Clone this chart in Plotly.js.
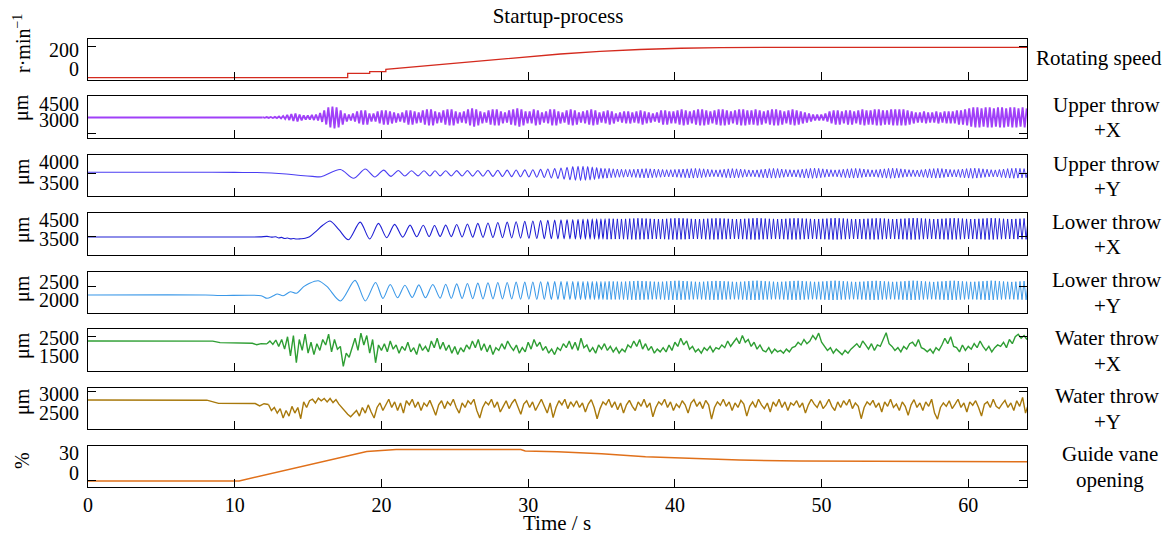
<!DOCTYPE html>
<html><head><meta charset="utf-8">
<script src="https://cdn.plot.ly/plotly-3.0.1.min.js"></script>
<style>html,body{margin:0;padding:0;background:#fff}#chart{width:1170px;height:540px}</style>
</head><body><div id="chart"></div>
<script>
// ---------------- DATA ----------------
// Rotating speed (r/min)
const speedT = [0, 17.7, 17.7, 19.2, 19.2, 20.3, 20.3, 21.3, 22.6, 24.7, 26.7, 28.1, 30.1, 32.2, 34.9, 37.6, 40.4, 43.1, 48.5, 64];
const speedV = [-84, -84, -39, -39, -23, -23, 2, 15, 31, 56, 87, 108, 133, 159, 185, 205, 218, 224, 228, 228];

// Guide vane opening (%)
const guideT = [0, 10.3, 19.0, 21.0, 29.5, 29.8, 32, 35, 38, 41.7, 44.4, 48.5, 55, 64];
const guideV = [-12, -12, 32.3, 35.3, 35.3, 33, 32, 29, 24.5, 22, 19.5, 18, 17.3, 17];

// Upper throw +X (um): flat part, then samples every 0.14 s from 11.9 s
const upXPreT = [0, 11.9];
const upXPreV = [3190, 3190];
const upXOscStart = 11.9;
const upXOscStep = 0.14;
const upXOscV = [3220,3160,3230,3150,3240,3140,3250,3130,3280,3100,3330,3050,3430,2950,3520,2860,3570,2810,3470,2910,3380,3000,3380,3000,3430,2950,3470,2910,3610,2770,
3850,2530,4130,2250,4220,2160,4130,2250,3850,2530,3570,2810,3470,2910,3570,2810,3750,2630,3850,2530,3850,2530,3570,2810,3570,2810,3750,2630,3850,2530,
3850,2530,3750,2630,3660,2720,3570,2810,3660,2720,3850,2530,3850,2530,3750,2630,3660,2720,3850,2530,3940,2440,3940,2440,3750,2630,3660,2720,3850,2530,
3940,2440,3940,2440,3750,2630,3660,2720,3750,2630,3940,2440,4040,2340,3940,2440,3750,2630,3660,2720,3850,2530,3940,2440,3940,2440,3750,2630,3660,2720,
3850,2530,3940,2440,4040,2340,3940,2440,3750,2630,3750,2630,3940,2440,3850,2530,3660,2720,3750,2630,3940,2440,3940,2440,3750,2630,3660,2720,3850,2530,
3940,2440,3850,2530,3660,2720,3750,2630,3850,2530,3940,2440,3850,2530,3660,2720,3750,2630,3850,2530,3750,2630,3570,2810,3660,2720,3750,2630,3750,2630,
3660,2720,3750,2630,3850,2530,3750,2630,3660,2720,3570,2810,3660,2720,3850,2530,3850,2530,3750,2630,
3750,2630,3850,2530,3940,2440,3850,2530,3750,2630,3850,2530,3940,2440,3940,2440,3850,2530,3750,2630,
3850,2530,3940,2440,3940,2440,3850,2530,3750,2630,3850,2530,3940,2440,3940,2440,3850,2530,3850,2530,
3940,2440,3850,2530,3750,2630,3850,2530,3940,2440,3940,2440,3850,2530,3750,2630,3850,2530,3940,2440,
3850,2530,3750,2630,3660,2720,3570,2810,3470,2910,3470,2910,3470,2910,3570,2810,
3750,2630,3850,2530,3850,2530,3750,2630,3850,2530,3850,2530,3750,2630,3850,2530,3940,2440,3850,2530,
3850,2530,3940,2440,3940,2440,3850,2530,3850,2530,3940,2440,3940,2440,3940,2440,3940,2440,3850,2530,
3750,2630,3660,2720,3660,2720,3750,2630,3660,2720,3660,2720,3750,2630,3660,2720,3750,2630,3750,2630,
3750,2630,3850,2530,3850,2530,3940,2440,
4040,2340,4130,2250,4130,2250,4040,2340,4130,2250,4130,2250,4040,2340,4130,2250,4130,2250,4040,2340,
4130,2250,4130,2250,4040,2340,4130,2250,4040];

// Shared times of the peaks/troughs of the once-per-turn swing, 24 s to 35.38 s
const tExt = [24.0, 24.38, 24.76, 25.13, 25.5, 25.86, 26.22, 26.57, 26.92, 27.26, 27.6, 27.93, 28.25, 28.57, 28.88, 29.18, 29.48, 29.77, 30.05, 30.32, 30.59, 30.85, 31.1, 31.34, 31.58, 31.81, 32.03, 32.24, 32.45, 32.65, 32.85, 33.04, 33.22, 33.4, 33.57, 33.74, 33.9, 34.06, 34.22, 34.37, 34.52, 34.67, 34.82, 34.96, 35.1, 35.24, 35.38];
// Steady part: alternating trough/peak every 0.14 s from 35.38 s
const steadyStart = 35.38;
const steadyStep = 0.14;

// Upper throw +Y (um)
const upYStartT = [0, 8, 10, 11.5, 12.5, 13.5, 14.5, 15.3, 15.9, 17.2, 18.1, 18.9, 19.55, 20.15, 20.65, 21.15, 21.6, 22.05, 22.5, 22.9, 23.3, 23.65, 24.0];
const upYStartV = [3748, 3748, 3745, 3743, 3731, 3707, 3671, 3650, 3643, 3815, 3605, 3825, 3635, 3800, 3650, 3790, 3660, 3785, 3662, 3786, 3660, 3785, 3662];
const upYMidV = [3662,3785,3660,3788,3658,3790,3656,3792,3654,3795,3650,3797,3648,3800,3645,3802,3642,3806,3638,3810,3632,3818,3624,3826,3614,3838,3600,3852,3585,3868,3570,3882,3560,3890,3555,3892,3558,3885,3566,3872,3580,3858,3594,3845,3605,3840,3610];
const upYSteadyV = [3610,3840,3620,3830,3625,3825,3630,3820,3630,3815,3635,3815,3630,3820,3625,3825,3620,3830,3615,3835,
3615,3830,3620,3825,3625,3820,3630,3815,3635,3810,3640,3810,3635,3815,3630,3820,3625,3825,3620,3830,
3615,3835,3610,3840,3615,3835,3620,3830,3630,3820,3640,3810,3645,3805,3640,3810,3630,3820,3620,3830,
3615,3835,3615,3830,3620,3825,3630,3815,3640,3805,3645,3800,3640,3805,3630,3815,3620,3825,3615,3835,
3610,3840,3610,3835,3620,3825,3630,3815,3640,3810,3640,3805,3635,3810,3625,3820,3615,3830,3610,3840,
3605,3845,3610,3840,3620,3830,3630,3820,3640,3810,3645,3805,3640,3810,3630,3820,3620,3830,3615,3835,
3610,3840,3615,3835,3625,3825,3635,3815,3640,3805,3640,3810,3630,3820,3620,3830,3610,3840,3605,3845,
3610,3840,3620,3830,3630,3820,3640,3810,3645,3805,3645,3800,3640,3810,3630,3820,3620,3830,3615,3835,
3610,3840,3615,3835,3625,3825,3635,3815,3640,3810,3635,3815,3625,3825,3615,3835,3610,3840,3605,3845,
3610,3840,3620,3830,3630,3820,3640,3810,3640,3805,3635,3815,3625,3825,3615,3835,3610,3840,3605,3845,
3610,3840,3615,3835,3620,3830];

// Lower throw +X (um)
const loXStartT = [0, 8, 11.7, 12.2, 12.5, 12.8, 13.0, 13.2, 13.4, 13.6, 13.8, 14.0, 14.2, 14.5, 14.8, 15.1, 15.5, 16.0, 16.5, 17.1, 17.75, 18.55, 19.2, 19.8, 20.36, 20.9, 21.45, 21.95, 22.4, 22.85, 23.25, 23.62, 24.0];
const loXStartV = [3610, 3610, 3615, 3640, 3600, 3620, 3560, 3590, 3530, 3560, 3510, 3530, 3500, 3515, 3540, 3620, 3880, 4230, 4460, 4000, 3460, 4400, 3500, 4330, 3570, 4280, 3600, 4240, 3620, 4230, 3630, 4220, 3640];
const loXMidV = [3640,4240,3630,4270,3610,4300,3600,4330,3590,4350,3580,4380,3570,4400,3560,4420,3550,4440,3540,4460,3530,4480,3520,4500,3515,4510,3510,4520,3505,4530,3500,4540,3500,4550,3495,4560,3495,4560,3490,4570,3490,4570,3490,4575,3490,4580,3490];
const loXSteadyV = [3490,4580,3495,4575,3500,4570,3500,4565,3495,4570,3490,4580,3485,4590,3480,4600,3485,4595,3490,4585,
3495,4575,3500,4565,3505,4560,3500,4565,3495,4575,3485,4590,3480,4600,3480,4605,3485,4595,3490,4585,
3500,4570,3505,4560,3505,4560,3500,4570,3490,4580,3485,4590,3480,4600,3485,4595,3490,4585,3495,4575,
3500,4565,3505,4560,3500,4565,3495,4575,3490,4585,3480,4600,3475,4610,3480,4600,3490,4585,3495,4575,
3500,4570,3505,4560,3500,4565,3495,4575,3485,4590,3480,4600,3480,4600,3485,4590,3495,4580,3500,4570,
3505,4560,3500,4565,3495,4575,3490,4585,3480,4600,3475,4610,3480,4600,3490,4590,3495,4575,3500,4565,
3505,4560,3505,4560,3500,4570,3490,4580,3485,4590,3480,4600,3485,4595,3490,4585,3500,4570,3505,4560,
3500,4565,3495,4575,3490,4585,3480,4600,3475,4610,3480,4605,3485,4595,3495,4580,3500,4570,3505,4560,
3500,4565,3495,4575,3485,4590,3480,4600,3480,4605,3485,4595,3490,4585,3500,4570,3505,4560,3500,4565,
3495,4575,3490,4585,3480,4600,3475,4610,3480,4600,3490,4590,3495,4575,3500,4565,3505,4560,3500,4570,
3495,4580,3490,4590,3485,4595];

// Lower throw +Y (um)
const loYStartT = [0, 8, 9, 11.8, 12.2, 12.6, 12.9, 13.3, 13.8, 14.2, 14.7, 15.1, 15.7, 16.3, 17.2, 18.2, 18.9, 19.6, 20.1, 20.6, 21.1, 21.6, 22.1, 22.55, 23.0, 23.5, 24.0];
const loYStartV = [2140, 2140, 2125, 2120, 2045, 2110, 2170, 2120, 2235, 2190, 2380, 2480, 2550, 2380, 1970, 2560, 1970, 2500, 2040, 2440, 2060, 2420, 2070, 2430, 2060, 2440, 2050];
const loYMidV = [2050,2450,2045,2460,2040,2470,2035,2480,2030,2490,2030,2500,2025,2500,2025,2510,2020,2510,2020,2515,2015,2520,2015,2520,2015,2525,2010,2525,2010,2530,2010,2530,2010,2530,2010,2530,2010,2530,2012,2528,2012,2528,2010,2530,2010,2530,2010];
const loYSteadyV = [2010,2530,2012,2528,2015,2525,2015,2520,2012,2525,2008,2532,2005,2540,2002,2545,2005,2540,2008,2535,
2012,2528,2015,2522,2018,2518,2015,2522,2010,2530,2005,2540,2000,2548,2000,2550,2004,2542,2008,2535,
2012,2526,2016,2520,2018,2516,2015,2522,2010,2530,2005,2538,2002,2545,2004,2542,2008,2535,2012,2528,
2016,2520,2018,2516,2015,2520,2010,2528,2005,2538,2000,2548,1998,2552,2002,2545,2008,2535,2012,2528,
2015,2522,2018,2516,2016,2520,2012,2526,2006,2536,2002,2545,2000,2548,2004,2540,2010,2530,2014,2524,
2018,2518,2016,2520,2012,2528,2006,2536,2000,2546,1998,2552,2002,2545,2008,2536,2012,2528,2016,2520,
2018,2516,2016,2520,2012,2526,2006,2536,2002,2544,2000,2548,2004,2542,2010,2532,2014,2524,2018,2518,
2016,2520,2012,2528,2006,2536,2000,2546,1998,2552,2002,2546,2006,2538,2012,2528,2016,2520,2018,2516,
2014,2524,2010,2530,2004,2540,2000,2548,2000,2550,2004,2542,2010,2532,2014,2524,2018,2518,2016,2520,
2012,2528,2008,2536,2002,2545,1998,2552,2002,2546,2008,2536,2012,2528,2016,2520,2018,2516,2015,2522,
2010,2530,2006,2538,2002,2545];

// Water throw +X (um): flat part, then samples every 0.2 s from 12.2 s
const waXPreT = [0, 8.5, 9.0, 11.2, 11.5, 11.8, 12.2];
const waXPreV = [2345, 2340, 2260, 2220, 2140, 2200, 2190];
const waXStart = 12.2;
const noiseStep = 0.2;
const waXV = [2190,2350,2160,2400,2050, 2430,1900,2580,1530,2650, 1150,2430,1830,2720,1680, 2280,1600,2200,1830,2430,
2130,2720,1750,2430,1900, 2050,950,1680,1450,1980, 2500,1830,2780,2130,2650, 1680,2430,1150,2130,1830,
2200,1750,2350,1900,2130, 1680,2050,1830,2280,1750, 1980,1600,2200,1830,2050, 1750,2350,1980,2500,1900,
2280,1830,2130,1680,2050, 1600,1980,1750,2130,1900, 2350,1980,2430,1830,2200, 1750,2130,1600,1980,1830,
2200,1900,2350,2050,1830, 2130,1680,1980,1750,2280, 1900,2430,2050,2280,1830, 2050,1680,1900,1600,1980,
1830,2200,1980,2350,1900, 2280,1830,2500,1980,2130, 1750,1980,1680,2130,1900, 2200,1830,2050,1750,1980,
1680,1900,1750,2130,1980, 2350,2050,2430,1900,2200, 1830,2050,1680,1900,1750, 1980,1750,2130,1830,2280,
2050,2500,2130,2350,1900, 2050,1750,1900,1680,1980, 1830,2050,1750,1980,1900, 2130,1980,2350,2050,2280,
2500,2200,2650,2280,2430, 2050,2280,1900,2130,1830, 1750,1980,1680,1900,1750, 1830,1680,1900,1750,1980,
2050,2280,2130,2430,2200, 2350,2650,2430,2780,2280, 2050,1830,1980,1680,1900, 1750,1600,1830,1680,1900,
2050,2200,1980,2350,2130, 1900,2200,1830,2130,2050, 2430,2800,2200,2050,1830, 1980,1750,2050,1900,2200,
2280,2050,2430,1980,1900, 1750,1900,1680,1980,1830, 2130,2500,2200,2580,2050, 1980,1750,2130,1830,2050,
1900,2200,1980,2350,2050, 1830,2050,1750,1980,2130, 2050,2280,1980,2430,2200, 2580,2720,2500,2650,2430];

// Water throw +Y (um): flat part, then samples every 0.2 s from 12.3 s
const waYPreT = [0, 8.1, 8.9, 11.4, 11.7, 12.0, 12.3];
const waYPreV = [2840, 2835, 2750, 2745, 2680, 2740, 2720];
const waYStart = 12.3;
const waYV = [2720,2560,2640,2490,2610, 2360,2560,2410,2670,2490, 2640,2340,2790,2640,2820, 2860,2760,2890,2820,2880,
2790,2880,2770,2850,2730, 2640,2520,2460,2390,2490, 2560,2410,2640,2490,2710, 2520,2360,2640,2760,2560,
2710,2860,2640,2790,2560, 2760,2490,2820,2710,2860, 2640,2790,2560,2760,2670, 2830,2640,2430,2710,2820,
2610,2790,2700,2860,2640, 2490,2760,2640,2820,2730, 2860,2560,2360,2640,2790, 2710,2860,2640,2790,2520,
2670,2820,2610,2760,2860, 2640,2460,2730,2820,2640, 2790,2560,2710,2860,2670, 2490,2760,2370,2640,2820,
2710,2860,2610,2790,2670, 2820,2640,2760,2520,2730, 2850,2640,2340,2610,2790, 2710,2860,2640,2790,2580,
2760,2490,2710,2830,2670, 2560,2790,2670,2860,2640, 2760,2390,2640,2790,2710, 2860,2640,2790,2560,2730,
2640,2820,2710,2490,2760, 2850,2670,2790,2610,2830, 2710,2330,2640,2790,2700, 2860,2670,2790,2560,2760,
2640,2830,2730,2410,2670, 2790,2640,2860,2710,2610, 2760,2520,2790,2670,2860, 2640,2790,2560,2760,2700,
2820,2640,2760,2490,2710, 2860,2730,2640,2820,2610, 2710,2860,2670,2560,2790, 2640,2820,2700,2860,2610,
2760,2670,2340,2640,2790, 2710,2830,2640,2760,2520, 2790,2670,2860,2640,2730, 2560,2790,2670,2430,2710,
2850,2640,2760,2560,2790, 2670,2860,2490,2330,2640, 2760,2670,2820,2610,2730, 2860,2640,2760,2520,2790,
2700,2820,2640,2410,2730, 2790,2640,2860,2670,2610, 2730,2830,2640,2760,2560, 2820,2670,2910,2490,2730];

// Tick labels and texts
const xTickVals = [0, 10, 20, 30, 40, 50, 60];
const yTickVals = [[0, 200], [3000, 4500], [3500, 4000], [3500, 4500], [2000, 2500], [1500, 2500], [2500, 3000], [0, 30]];
const yOddTick = [234, 1706, 3724, 3642, 2373, 2608, 3061, -10.5];
const yTitles = ['r·min<sup>−1</sup>', 'μm', 'μm', 'μm', 'μm', 'μm', 'μm', '%'];
const rightLabels = [['Rotating speed'], ['Upper throw', '+X'], ['Upper throw', '+Y'], ['Lower throw', '+X'], ['Lower throw', '+Y'], ['Water throw', '+X'], ['Water throw', '+Y'], ['Guide vane', 'opening']];
const chartTitle = 'Startup-process';
const xTitle = 'Time / s';

// ---------------- LAYOUT / STYLE ----------------
const W = 1170, H = 540;
const FONT = 'Liberation Serif, Times New Roman, Times, serif';
const colors = ['#D42A1E', '#A040F8', '#4B3EF2', '#1E1ED4', '#3A98E8', '#2E9E33', '#A8790C', '#E0701A'];
const widths = [1.3, 1.9, 0.95, 0.95, 0.95, 1.4, 1.4, 1.5];
const boxTop = [39, 96, 155, 213, 271.5, 329, 387.5, 445.5];
const boxBot = [80, 137.7, 196, 254.5, 312.5, 371, 428.5, 486.5];
const yRanges = [[-108, 313], [1294, 5203], [3183, 4160], [2681, 4882], [1638, 2815], [697, 3008], [2078, 3174], [-20.25, 41.25]];
const yTitleY = [44, 108, 172, 230, 289, 346, 402, 461];
const rightX = [1098.5, 1107, 1107, 1107, 1107, 1107, 1107, 1110];
const px2x = p => p / W, px2y = p => 1 - p / H;

const traces = [];
function base(i, extra) {
  return Object.assign({type: 'scatter', mode: 'lines', xaxis: 'x' + (i + 1), yaxis: 'y' + (i + 1),
    line: {color: colors[i], width: widths[i]}, hoverinfo: 'skip', showlegend: false}, extra);
}
function line(i, x, y, shape) {
  const ln = {color: colors[i], width: shape ? 1.1 : widths[i]};
  if (shape) { ln.shape = 'spline'; ln.smoothing = 0.8; }
  traces.push(base(i, {x: x, y: y, line: ln}));
}
function uniform(i, start, step, y) {
  traces.push(base(i, {x0: start, dx: step, y: y}));
}
line(0, speedT, speedV);
line(1, upXPreT, upXPreV);
uniform(1, upXOscStart, upXOscStep, upXOscV);
line(2, upYStartT.concat(tExt.slice(1)), upYStartV.concat(upYMidV.slice(1)), true);
uniform(2, steadyStart, steadyStep, upYSteadyV);
line(3, loXStartT.concat(tExt.slice(1)), loXStartV.concat(loXMidV.slice(1)), true);
uniform(3, steadyStart, steadyStep, loXSteadyV);
line(4, loYStartT.concat(tExt.slice(1)), loYStartV.concat(loYMidV.slice(1)), true);
uniform(4, steadyStart, steadyStep, loYSteadyV);
line(5, waXPreT, waXPreV);
uniform(5, waXStart, noiseStep, waXV);
line(6, waYPreT, waYPreV);
uniform(6, waYStart, noiseStep, waYV);
line(7, guideT, guideV);

const layout = {
  width: W, height: H, margin: {l: 0, r: 0, t: 0, b: 0},
  paper_bgcolor: '#fff', plot_bgcolor: '#fff', showlegend: false,
  font: {family: FONT, size: 20, color: '#000'},
  title: {text: chartTitle, x: px2x(558), xanchor: 'center', y: px2y(16), yanchor: 'middle', font: {family: FONT, size: 21, color: '#000'}},
  annotations: []
};
for (let i = 0; i < 8; i++) {
  layout['xaxis' + (i + 1)] = {
    domain: [px2x(88), px2x(1027)], range: [0, 64], anchor: 'y' + (i + 1),
    showline: true, mirror: true, linecolor: '#000', linewidth: 1,
    ticks: 'inside', ticklen: 8, tickcolor: '#000', tickwidth: 1,
    tickmode: 'array', tickvals: xTickVals, showticklabels: i === 7, ticklabelstandoff: 0,
    showgrid: false, zeroline: false, fixedrange: true,
    tickfont: {family: FONT, size: 20, color: '#000'}
  };
  layout['yaxis' + (i + 1)] = {
    domain: [px2y(boxBot[i]), px2y(boxTop[i])], range: yRanges[i], anchor: 'x' + (i + 1),
    showline: true, mirror: 'ticks', linecolor: '#000', linewidth: 1,
    ticks: '', tickmode: 'array', tickvals: yTickVals[i], ticktext: yTickVals[i].map(String),
    minor: {ticks: 'inside', ticklen: 8, tickcolor: '#000', tickwidth: 1, tickmode: 'array', tickvals: [yOddTick[i]], showgrid: false},
    ticklabelstandoff: 4, showgrid: false, zeroline: false, fixedrange: true,
    tickfont: {family: FONT, size: 20, color: '#000'}
  };
  layout.annotations.push({xref: 'paper', yref: 'paper', x: px2x(22), y: px2y(yTitleY[i]), text: yTitles[i], textangle: -90,
    showarrow: false, xanchor: 'center', yanchor: 'middle', font: {family: FONT, size: 20, color: '#000'}});
  const lines = rightLabels[i];
  const c = (boxTop[i] + boxBot[i]) / 2;
  const ys = lines.length === 1 ? [c - 1.5] : [c - 12, c + 13.5];
  lines.forEach((txt, k) => {
    layout.annotations.push({xref: 'paper', yref: 'paper', x: px2x(rightX[i]), y: px2y(ys[k]), text: txt,
      showarrow: false, xanchor: 'center', yanchor: 'middle', font: {family: FONT, size: 21, color: '#000'}});
  });
}
layout.annotations.push({xref: 'paper', yref: 'paper', x: px2x(557), y: px2y(523), text: xTitle, showarrow: false,
  xanchor: 'center', yanchor: 'middle', font: {family: FONT, size: 21, color: '#000'}});

Plotly.newPlot('chart', traces, layout, {displayModeBar: false, staticPlot: true});
</script></body></html>
